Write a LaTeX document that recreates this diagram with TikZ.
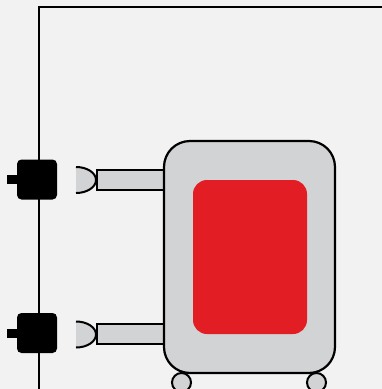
\documentclass[tikz,border=0pt]{standalone}
\begin{document}
\begin{tikzpicture}[x=1pt,y=-1pt,
  bgcol/.style={fill={rgb,255:red,242;green,242;blue,242}},
  wire/.style={line width=2pt, draw=black},
  plug/.style={fill=black, rounded corners=4.5pt, minimum width=40pt, minimum height=40pt, inner sep=0pt},
  plugtab/.style={fill=black, minimum width=10pt, minimum height=9pt, inner sep=0pt},
  partfill/.style={fill={rgb,255:red,210;green,211;blue,213}},
  cup/.style={partfill, draw=black, line width=2pt},
  pipe/.style={partfill, draw=black, line width=2pt, minimum width=69.5pt, minimum height=20pt, inner sep=0pt},
  tank/.style={partfill, draw=black, line width=2.2pt, rounded corners=26pt, minimum width=171pt, minimum height=232pt, inner sep=0pt},
  core/.style={fill={rgb,255:red,227;green,29;blue,36}, rounded corners=14pt, minimum width=114pt, minimum height=154pt, inner sep=0pt},
  wheel/.style={partfill, draw=black, line width=2pt, circle, minimum size=19pt, inner sep=0pt}]

% background and frame
\fill[bgcol] (0,0) rectangle (382,389);
\useasboundingbox (0,0) rectangle (382,389);

% supply wire
\coordinate (wright) at (382,6.5);
\coordinate (wcorner) at (38.5,6.5);
\coordinate (wbottom) at (38.5,389);
\draw[wire] (wright) -- (wcorner) -- (wbottom);

% wall plugs on the wire
\node[plug] (plugA) at (37,179.5) {};
\node[plugtab] (tabA) at (12,179.5) {};
\node[plug] (plugB) at (37,333) {};
\node[plugtab] (tabB) at (12,333.5) {};

% sockets
\filldraw[cup] (76,167) arc[start angle=-90, end angle=90, x radius=20, y radius=13];
\filldraw[cup] (76,321.5) arc[start angle=-90, end angle=90, x radius=20, y radius=13];

% connecting pipes
\node[pipe, anchor=west] (pipeA) at (95.5,180) {};
\node[pipe, anchor=west] (pipeB) at (95.5,334) {};

% wheels
\node[wheel] (wheelL) at (181.5,382.5) {};
\node[wheel] (wheelR) at (316.5,382.5) {};

% tank body and core
\node[tank] (tank) at (249.5,257) {};
\node[core] (core) at (250,257) {};
\end{tikzpicture}
\end{document}
